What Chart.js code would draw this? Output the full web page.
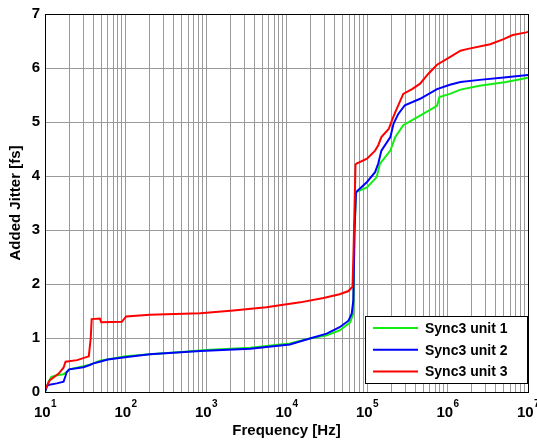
<!DOCTYPE html>
<html>
<head>
<meta charset="utf-8">
<script src="https://cdn.jsdelivr.net/npm/chart.js@4/dist/chart.umd.min.js"></script>
<style>
  body { margin: 0; background: #fff; }
  #wrap { width: 537px; height: 441px; }
</style>
</head>
<body>
<div id="wrap"><canvas id="chart" width="537" height="441"></canvas></div>
<script>
const seriesNames = ["Sync3 unit 1", "Sync3 unit 2", "Sync3 unit 3"];
const seriesColors = ["#11ee11", "#0000ff", "#ff0000"];

// Frequency [Hz] / added jitter [fs]
const freq1 = [10, 11, 12, 14, 17, 19, 20, 25, 35, 40, 48, 70, 100, 200, 500, 1000, 3550, 11000, 19500, 31600, 45700, 61700, 67600, 70000, 73000,
  100000, 132000, 145000, 195000, 224000, 282000, 457000, 741000, 794000, 1070000, 1450000, 2500000, 5370000, 10000000];
const jitter1 = [0, 0.18, 0.28, 0.31, 0.33, 0.38, 0.42, 0.45, 0.5, 0.53, 0.58, 0.62, 0.66, 0.7, 0.74, 0.78, 0.82, 0.9, 0.99, 1.05, 1.14, 1.29, 1.45, 3.0, 3.7,
  3.79, 3.98, 4.23, 4.47, 4.72, 4.94, 5.12, 5.3, 5.46, 5.52, 5.6, 5.67, 5.74, 5.82];

const freq2 = [10, 10.5, 11, 14, 17, 18, 18.6, 20, 30, 36, 40, 48, 60, 93, 200, 850, 3550, 11000, 19500, 31600, 45700, 58900, 64600, 67600, 70000, 73000,
  100000, 126000, 138000, 151000, 195000, 214000, 245000, 295000, 457000, 741000, 1070000, 1450000, 2510000, 5370000, 10000000];
const jitter2 = [0, 0.1, 0.13, 0.16, 0.19, 0.3, 0.37, 0.42, 0.46, 0.5, 0.53, 0.56, 0.6, 0.64, 0.7, 0.76, 0.8, 0.88, 0.99, 1.08, 1.2, 1.32, 1.45, 1.69, 3.0, 3.7,
  3.89, 4.07, 4.23, 4.47, 4.72, 4.97, 5.15, 5.31, 5.43, 5.61, 5.69, 5.74, 5.78, 5.83, 5.87];

const freq3 = [10, 11.5, 14.8, 17, 18, 25, 35, 37, 38, 48, 50, 90, 102, 200, 850, 2190, 5620, 14800, 28800, 45700, 58900, 66100, 68000, 72000, 74100,
  100000, 126000, 138000, 151000, 186000, 204000, 224000, 282000, 363000, 457000, 575000, 741000, 1070000, 1450000, 1740000, 3390000, 4900000, 6460000, 9550000, 10000000];
const jitter3 = [0.04, 0.22, 0.34, 0.45, 0.56, 0.59, 0.66, 1.0, 1.35, 1.36, 1.29, 1.3, 1.4, 1.43, 1.46, 1.51, 1.57, 1.66, 1.74, 1.81, 1.87, 1.95, 2.6, 4.21, 4.23,
  4.32, 4.47, 4.57, 4.72, 4.87, 5.03, 5.18, 5.52, 5.61, 5.71, 5.89, 6.06, 6.2, 6.32, 6.35, 6.44, 6.53, 6.61, 6.66, 6.67];

const xExponents = [1, 2, 3, 4, 5, 6, 7];
const yTicks = [0, 1, 2, 3, 4, 5, 6, 7];

const FONT = "'Liberation Sans', Arial, Helvetica, sans-serif";

function points(xs, ys) {
  return xs.map((x, i) => ({ x: x, y: ys[i] }));
}

// box, x tick labels with superscripts, legend in lower right
const matlabFrame = {
  id: "matlabFrame",
  afterDraw(chart) {
    const ctx = chart.ctx;
    const area = chart.chartArea;
    const xs = chart.scales.x;
    ctx.save();
    ctx.strokeStyle = "#000";
    ctx.lineWidth = 1;
    ctx.strokeRect(Math.round(area.left) + 0.5, Math.round(area.top) + 0.5,
      Math.round(area.right - area.left), Math.round(area.bottom - area.top));

    // tick labels 10^n
    ctx.fillStyle = "#000";
    ctx.textBaseline = "alphabetic";
    xExponents.forEach(p => {
      const px = xs.getPixelForValue(Math.pow(10, p));
      ctx.font = "bold 15px " + FONT;
      const wBase = ctx.measureText("10").width;
      ctx.font = "bold 10px " + FONT;
      const wExp = ctx.measureText(String(p)).width;
      const start = px - (wBase + wExp) / 2;
      ctx.font = "bold 15px " + FONT;
      ctx.textAlign = "left";
      ctx.fillText("10", start, area.bottom + 25);
      ctx.font = "bold 10px " + FONT;
      ctx.fillText(String(p), start + wBase + 0.5, area.bottom + 14.5);
    });

    // legend
    const bx = 365, by = 316, bw = area.right - 365 - 1, bh = 67;
    ctx.fillStyle = "#fff";
    ctx.fillRect(bx, by, bw, bh);
    ctx.strokeRect(bx + 0.5, by + 0.5, bw, bh);
    ctx.font = "bold 14px " + FONT;
    ctx.textBaseline = "middle";
    seriesNames.forEach((name, i) => {
      const y = by + 12 + i * 21.8;
      ctx.strokeStyle = seriesColors[i];
      ctx.lineWidth = 2;
      ctx.beginPath();
      ctx.moveTo(373, y);
      ctx.lineTo(418, y);
      ctx.stroke();
      ctx.fillStyle = "#000";
      ctx.fillText(name, 425, y + 1);
    });
    ctx.restore();
  }
};

const ctx = document.getElementById("chart").getContext("2d");

new Chart(ctx, {
  type: "line",
  data: {
    datasets: [
      { label: seriesNames[0], data: points(freq1, jitter1), borderColor: seriesColors[0], order: 3 },
      { label: seriesNames[1], data: points(freq2, jitter2), borderColor: seriesColors[1], order: 2 },
      { label: seriesNames[2], data: points(freq3, jitter3), borderColor: seriesColors[2], order: 1 }
    ]
  },
  options: {
    responsive: false,
    animation: false,
    devicePixelRatio: 1,
    layout: { padding: { top: 13, right: 9, left: 0, bottom: 0 } },
    elements: {
      line: { borderWidth: 2, tension: 0, fill: false },
      point: { radius: 0 }
    },
    plugins: {
      legend: { display: false },
      tooltip: { enabled: false }
    },
    scales: {
      x: {
        type: "logarithmic",
        min: 10,
        max: 1e7,
        afterBuildTicks: scale => {
          const t = [];
          for (let p = 1; p < 7; p++) {
            for (let m = 1; m < 10; m++) t.push({ value: m * Math.pow(10, p) });
          }
          t.push({ value: 1e7 });
          scale.ticks = t;
        },
        afterFit: scale => { scale.height = 49; },
        ticks: { display: false },
        grid: { color: "#9a9a9a", lineWidth: 1, drawTicks: false },
        border: { display: true, color: "#000" },
        title: {
          display: true,
          text: "Frequency [Hz]",
          color: "#000",
          font: { family: FONT, size: 15, weight: "bold" },
          padding: { top: 0, bottom: 1 }
        }
      },
      y: {
        min: 0,
        max: 7,
        afterBuildTicks: scale => { scale.ticks = yTicks.map(v => ({ value: v })); },
        afterFit: scale => { scale.width = 45; },
        ticks: {
          color: "#000",
          padding: 5,
          font: { family: FONT, size: 15, weight: "bold" }
        },
        grid: { color: "#9a9a9a", lineWidth: 1, drawTicks: false },
        border: { display: true, color: "#000" },
        title: {
          display: true,
          text: "Added Jitter [fs]",
          color: "#000",
          font: { family: FONT, size: 15, weight: "bold" },
          padding: { top: 7, bottom: 0 }
        }
      }
    }
  },
  plugins: [matlabFrame]
});
</script>
</body>
</html>
